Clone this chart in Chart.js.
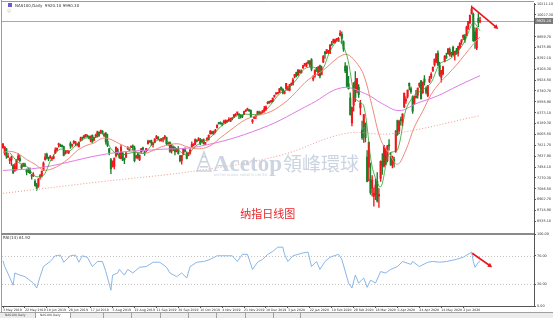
<!DOCTYPE html>
<html>
<head>
<meta charset="utf-8">
<script src="https://cdn.jsdelivr.net/npm/chart.js@4.4.0/dist/chart.umd.min.js"></script>
<style>
  html, body { margin: 0; padding: 0; background: #fff; }
  #wrap { width: 553px; height: 318px; }
</style>
</head>
<body>
<div id="wrap"><canvas id="chart" width="553" height="318"></canvas></div>
<script>
// date axis labels, one every 13 bars
const dateTicks = ["3 May 2019", "22 May 2019", "10 Jun 2019", "28 Jun 2019", "17 Jul 2019", "5 Aug 2019",
  "22 Aug 2019", "11 Sep 2019", "30 Sep 2019", "16 Oct 2019", "4 Nov 2019", "21 Nov 2019", "10 Dec 2019",
  "3 Jan 2020", "22 Jan 2020", "10 Feb 2020", "28 Feb 2020", "18 Mar 2020", "6 Apr 2020", "24 Apr 2020",
  "14 May 2020", "2 Jun 2020"];
const priceTicks = [10211.1, 10027.3, 9659.7, 9475.9, 9292.1, 9108.3, 8924.5, 8740.7, 8556.9, 8373.1,
  8189.3, 8005.5, 7821.7, 7637.9, 7454.1, 7270.3, 7086.5, 6902.7, 6718.9, 6535.1];
const rsiTicks = [0, 30, 70, 100];
const rsiLevels = [30, 70];
const lastPrice = 9925.1;

// daily candles, May 2019 .. Jun 2020 (one line per month)
const opens = [
  7780,7690,7760,7620,7560,7580,7480,7390,7420,7580,7600,7480,7480,7500,7410,7410,7390,7310,7310,7210,
  7150,7130,7290,7310,7400,7580,7670,7600,7610,7590,7600,7690,7740,7830,7820,7820,7800,7680,7710,7700,
  7850,7820,7860,7860,7830,7800,7910,7950,7950,7990,7980,7970,7910,7990,7910,7980,7970,8040,8030,8060,7980,8020,
  7890,7760,7580,7480,7460,7640,7750,7670,7600,7690,7600,7620,7760,7770,7790,7810,7780,7620,7680,7580,7710,7780,
  7700,7730,7850,7890,7900,7830,7870,7950,7960,7900,7900,7930,7950,7950,7840,7870,7720,7800,7780,7720,
  7770,7640,7560,7670,7740,7690,7650,7690,7800,7820,7840,7900,7920,7920,7880,7920,7840,7920,7920,8020,8050,8030,8060,
  8120,8200,8200,8190,8210,8200,8220,8240,8230,8270,8300,8330,8370,8350,8320,8320,8340,8400,8420,8420,
  8410,8220,8280,8310,8350,8380,8360,8380,8400,8430,8530,8560,8560,8560,8650,8690,8700,8710,8800,8770,8700,
  8780,8760,8750,8850,8850,8980,9050,9010,9080,9050,9130,9190,9160,9230,9180,9270,8940,8990,9120,9020,9170,
  9020,9230,9400,9390,9400,9380,9540,9560,9560,9610,9590,9680,9700,9570,9160,9150,8860,8620,8200,
  8500,8900,8750,8800,8460,8080,8140,8190,7620,7450,7250,7100,6960,6990,7210,6960,7260,7550,7470,7650,7560,7830,
  7640,7490,7580,7720,8240,8070,8260,8230,8470,8570,8650,8870,8780,8640,8530,8650,8670,8830,8910,8710,8940,
  8780,8660,8900,8970,9080,9180,9230,9380,9180,8970,9030,9240,9330,9370,9440,9350,9480,9350,9430,9380,
  9470,9570,9650,9670,9680,9810,9890,10050,10040,9740,9470,9970,9920
];
const highs = [
  7850,7800,7770,7690,7610,7640,7500,7510,7580,7680,7650,7500,7520,7520,7420,7440,7440,7330,7360,7240,
  7180,7260,7330,7390,7540,7680,7690,7620,7650,7620,7660,7780,7780,7860,7840,7830,7810,7730,7730,7730,
  7880,7840,7900,7890,7850,7880,7960,7960,7990,8000,8000,7980,7980,8000,7960,8010,8060,8050,8080,8070,8030,8040,
  8010,7770,7600,7560,7610,7790,7770,7690,7830,7700,7610,7710,7800,7780,7810,7830,7810,7650,7690,7660,7770,7790,
  7720,7770,7910,7900,7910,7870,7930,7990,7970,7920,7940,7950,7990,7960,7870,7880,7820,7800,7790,7770,
  7800,7650,7650,7760,7780,7710,7700,7760,7880,7850,7930,7920,7950,7940,7920,7930,7870,7950,8000,8070,8060,8060,8090,
  8170,8210,8220,8190,8250,8250,8250,8290,8280,8290,8340,8360,8380,8360,8340,8330,8400,8420,8450,8430,
  8420,8260,8310,8320,8400,8400,8390,8410,8480,8490,8560,8570,8580,8620,8670,8710,8710,8780,8810,8780,8740,
  8870,8820,8850,8880,8960,9020,9060,9100,9100,9100,9180,9200,9220,9260,9250,9290,9000,9100,9140,9150,9180,
  9160,9340,9410,9440,9430,9520,9580,9620,9620,9630,9650,9760,9740,9590,9220,9170,8990,8710,8470,
  8880,9070,8950,8850,8580,8230,8340,8200,7730,7880,7520,7310,7100,7250,7360,7090,7560,7680,7820,7770,7820,7920,
  7700,7640,7620,8070,8250,8240,8300,8360,8710,8640,8760,8880,8810,8660,8650,8750,8790,8880,8920,8890,9000,
  8810,8830,8990,9050,9150,9280,9370,9420,9230,9090,9160,9340,9380,9460,9470,9400,9500,9410,9460,9500,
  9560,9610,9690,9700,9840,9920,10030,10180,10060,9810,9810,10050,9990
];
const lows = [
  7770,7660,7600,7610,7510,7480,7340,7380,7400,7570,7540,7410,7460,7460,7320,7360,7340,7250,7290,7130,
  7060,7110,7250,7280,7390,7570,7590,7560,7600,7560,7590,7680,7720,7790,7800,7790,7640,7670,7690,7680,
  7770,7790,7850,7810,7810,7790,7890,7910,7940,7960,7960,7930,7880,7870,7900,7950,7960,7970,8020,8010,7970,7840,
  7800,7660,7340,7450,7420,7620,7660,7600,7590,7560,7510,7610,7750,7730,7780,7730,7540,7600,7590,7560,7700,7720,
  7650,7710,7840,7870,7820,7790,7860,7930,7920,7890,7890,7880,7930,7830,7820,7700,7690,7730,7660,7710,
  7670,7540,7500,7660,7710,7590,7640,7670,7790,7810,7830,7880,7900,7830,7870,7840,7830,7890,7910,8010,8010,8000,8030,
  8110,8180,8180,8150,8190,8190,8210,8230,8220,8250,8290,8320,8340,8270,8280,8290,8340,8390,8410,8400,
  8290,8190,8270,8270,8340,8350,8340,8370,8380,8410,8520,8530,8540,8560,8630,8680,8690,8710,8750,8690,8690,
  8760,8750,8740,8830,8840,8960,8980,9000,9040,9040,9120,9160,9150,9200,9150,9080,8910,8970,9070,9000,8960,
  9010,9220,9290,9370,9370,9370,9510,9550,9550,9580,9580,9670,9550,9410,9050,8810,8770,8330,8150,
  8400,8560,8710,8630,8340,7920,7870,7880,7200,7220,6990,6960,6790,6900,6860,6770,7210,7330,7450,7490,7540,7740,
  7480,7440,7450,7700,7990,8020,8160,8150,8460,8530,8620,8760,8700,8360,8510,8620,8620,8800,8600,8700,8840,
  8690,8640,8880,8950,9070,9160,9220,9170,8990,8890,9010,9230,9290,9360,9330,9320,9340,9260,9360,9330,
  9460,9530,9610,9560,9670,9780,9880,10040,9580,9460,9440,9830,9890
];
const closes = [
  7845,7790,7640,7630,7590,7620,7360,7470,7570,7640,7560,7440,7510,7470,7370,7380,7350,7300,7320,7140,
  7090,7250,7310,7380,7520,7620,7610,7590,7630,7590,7630,7740,7770,7840,7810,7800,7650,7690,7710,7720,
  7810,7830,7890,7870,7830,7870,7930,7940,7980,7990,7970,7940,7970,7880,7950,8000,8050,7990,8070,8040,8010,7880,
  7820,7700,7420,7550,7600,7790,7700,7620,7790,7570,7580,7690,7780,7740,7800,7790,7560,7640,7610,7650,7760,7750,
  7680,7770,7890,7880,7860,7860,7930,7960,7930,7900,7940,7940,7950,7850,7840,7720,7800,7760,7710,7750,
  7680,7560,7650,7760,7720,7600,7690,7740,7840,7820,7920,7890,7930,7850,7910,7850,7870,7940,7990,8060,8020,8050,8080,
  8160,8190,8190,8180,8220,8250,8240,8260,8270,8280,8340,8350,8370,8330,8300,8310,8390,8410,8440,8400,
  8310,8250,8300,8310,8390,8360,8370,8410,8440,8470,8550,8550,8560,8620,8660,8700,8700,8780,8770,8710,8730,
  8870,8790,8850,8850,8930,9020,9000,9100,9050,9070,9170,9200,9200,9210,9250,9110,8950,9090,9080,9150,8990,
  9130,9330,9370,9440,9400,9520,9520,9610,9600,9620,9630,9720,9630,9450,9080,8820,8780,8340,8460,
  8880,8630,8950,8680,8530,7950,8340,7950,7210,7870,7020,7230,7010,7150,6880,6990,7550,7470,7820,7500,7810,7810,
  7490,7620,7530,8060,8000,8230,8240,8350,8700,8600,8750,8830,8730,8400,8630,8630,8790,8870,8610,8890,8890,
  8720,8830,8940,9020,9140,9280,9370,9180,9020,9090,9150,9330,9300,9450,9360,9390,9350,9410,9370,9490,
  9550,9600,9680,9610,9820,9920,10020,10130,9590,9590,9790,9900,9925
];

// moving averages (bar index, value)
const fastMaBars = [4,9,14,19,24,29,34,39,44,49,54,59,64,69,74,79,84,89,94,99,104,109,114,119,124,129,134,139,
  144,149,154,159,164,169,174,179,184,189,194,199,204,209,214,219,224,229,234,239,244,249,254,259,264,269,274,279,283];
const fastMa = [7699,7532,7470,7298,7310,7608,7758,7714,7846,7942,7942,8030,7766,7652,7682,7706,7690,7852,7932,7860,
  7740,7658,7802,7886,7976,8134,8230,8322,8348,8340,8368,8514,8692,8774,8930,9118,9144,9088,9412,9596,9340,8618,
  8490,7456,7116,7682,7740,8424,8668,8758,8880,9198,9264,9376,9586,9896,9759];
const midMaBars = [0,4,9,14,19,24,29,34,39,44,49,54,59,64,69,74,79,84,89,94,99,104,109,114,119,124,129,134,139,
  144,149,154,159,164,169,174,179,184,189,194,199,204,209,214,219,224,229,234,239,244,249,254,259,264,269,274,279,283];
const midMa = [7700,7720,7680,7580,7500,7403,7422,7494,7598,7732,7815,7861,7940,7920,7848,7783,7702,7683,7733,7795,
  7834,7846,7798,7765,7772,7831,7950,8057,8166,8259,8310,8345,8393,8479,8587,8728,8879,8992,9070,9191,9310,9359,
  9242,9011,8476,7920,7686,7499,7741,8129,8398,8683,8876,9025,9180,9356,9531,9654];
const ma60Bars = [0,23,63,92,116,153,183,201,215,225,235,245,258,270,283];
const ma60 = [7395,7446,7682,7750,7800,8104,8526,8795,8694,8526,8408,8526,8660,8829,9000];
const ma200Bars = [0,57,116,164,203,231,283];
const ma200 = [7008,7202,7395,7648,8019,8019,8323];

// RSI(14)
const rsiBars = [0,1,3,6,7,10,13,18,20,22,24,28,31,34,36,40,43,45,47,50,53,56,59,61,64,65,68,69,72,74,77,81,85,
  89,93,97,99,103,106,109,111,115,119,123,127,133,136,139,142,145,148,151,154,157,160,163,166,167,169,172,175,178,
  181,183,186,188,191,194,199,201,205,207,209,211,214,216,218,221,224,227,230,234,237,242,243,247,252,255,259,263,
  269,273,278,279,280,282,283];
const rsiValues = [63,55,45,29,46,43,41,32,25,41,55,62,70,71,61,70,71,61,70,68,55,62,62,48,22,43,46,51,43,51,46,54,55,
  61,61,54,46,41,46,39,55,61,62,65,70,70,70,62,72,72,51,61,65,72,76,82,82,72,62,70,72,74,
  75,55,62,51,62,68,72,65,32,25,43,32,39,26,36,32,48,46,51,55,62,58,62,55,61,62,61,62,
  65,68,75,62,54,61,62];

const upColor = "#f2151b";
const downColor = "#19802a";
const bars = closes.map((c, i) => i);
const candleColors = bars.map(i => (closes[i] >= opens[i] ? upColor : downColor));

function toPoints(xs, ys) {
  return xs.map((x, k) => ({ x: x, y: ys[k] }));
}

function drawArrow(ctx, x1, y1, x2, y2, width, head) {
  const ang = Math.atan2(y2 - y1, x2 - x1);
  ctx.lineWidth = width;
  ctx.beginPath();
  ctx.moveTo(x1, y1);
  ctx.lineTo(x2 - head * 0.7 * Math.cos(ang), y2 - head * 0.7 * Math.sin(ang));
  ctx.stroke();
  ctx.beginPath();
  ctx.moveTo(x2, y2);
  ctx.lineTo(x2 - head * Math.cos(ang - 0.5), y2 - head * Math.sin(ang - 0.5));
  ctx.lineTo(x2 - head * Math.cos(ang + 0.5), y2 - head * Math.sin(ang + 0.5));
  ctx.closePath();
  ctx.fill();
}

const terminalLook = {
  id: "terminalLook",
  beforeDraw(chart) {
    const ctx = chart.ctx;
    ctx.save();
    ctx.fillStyle = "#ffffff";
    ctx.fillRect(0, 0, chart.width, chart.height);
    ctx.restore();
  },
  beforeDatasetsDraw(chart) {
    const { ctx, chartArea: a, scales } = chart;
    ctx.save();
    // RSI levels
    ctx.strokeStyle = "#c4c4c4";
    ctx.lineWidth = 1;
    ctx.setLineDash([1, 2]);
    rsiLevels.forEach(v => {
      const py = Math.round(scales.rsi.getPixelForValue(v)) + 0.5;
      ctx.beginPath(); ctx.moveTo(a.left, py); ctx.lineTo(a.right, py); ctx.stroke();
    });
    ctx.setLineDash([]);
    // last price line
    const ly = Math.round(scales.y.getPixelForValue(lastPrice)) + 0.5;
    ctx.strokeStyle = "#a8a8a8";
    ctx.beginPath(); ctx.moveTo(a.left, ly); ctx.lineTo(a.right, ly); ctx.stroke();
    ctx.restore();
  },
  afterDraw(chart) {
    const { ctx, chartArea: a, scales } = chart;
    const sx = scales.x, sy = scales.y, sr = scales.rsi;
    ctx.save();

    // frame lines
    ctx.strokeStyle = "#9c9c9c";
    ctx.lineWidth = 1;
    ctx.beginPath(); ctx.moveTo(1.5, 0); ctx.lineTo(1.5, 312); ctx.stroke();
    ctx.beginPath(); ctx.moveTo(1.5, 1.5); ctx.lineTo(a.right, 1.5); ctx.stroke();
    ctx.fillStyle = "#8a8a8a";
    ctx.fillRect(1, Math.round(sy.bottom) - 1, a.right - 1, 2);

    // last price label
    const ly = sy.getPixelForValue(lastPrice);
    ctx.fillStyle = "#7a7a7a";
    ctx.fillRect(a.right + 1, ly - 3, 18, 6);
    ctx.fillStyle = "#ffffff";
    ctx.font = "3.6px 'DejaVu Sans'";
    ctx.textBaseline = "middle";
    ctx.fillText(lastPrice.toFixed(2), a.right + 2.5, ly + 0.3);

    // headers
    ctx.fillStyle = "#6a5acd";
    ctx.fillRect(8, 3, 4, 4);
    ctx.fillStyle = "#333333";
    ctx.font = "4px 'DejaVu Sans'";
    ctx.textBaseline = "middle";
    ctx.fillText("NAS100,Daily  9920.10 9990.30", 15, 5.5);
    ctx.fillStyle = "#b8d86a";
    ctx.fillText("\u263A", 7, 11);
    ctx.fillStyle = "#333333";
    ctx.fillText("RSI(14) 61.92", 3, sy.bottom + 3.5);

    // watermark
    ctx.globalAlpha = 0.75;
    ctx.fillStyle = "#b9c6d6";
    ctx.strokeStyle = "#b9c6d6";
    const wx = 197, wy = 171;
    ctx.beginPath();
    ctx.moveTo(wx, wy); ctx.lineTo(wx + 7, wy - 19); ctx.lineTo(wx + 14, wy); ctx.closePath();
    ctx.lineWidth = 1.5; ctx.stroke();
    for (let k = 0; k < 3; k++) {
      ctx.fillRect(wx + 3 + k, wy - 5 - k * 5, 8 - 2 * k, 1.6);
    }
    ctx.textBaseline = "alphabetic";
    ctx.font = "bold 23px 'Liberation Serif'";
    ctx.fillText("Acetop", 213, wy);
    ctx.font = "19px 'Noto Sans CJK TC'";
    ctx.fillText("\u9818\u5CF0\u74B0\u7403", 283, wy);
    ctx.font = "3px 'DejaVu Sans'";
    ctx.fillText("ACETOP GLOBAL MARKETS LIMITED", 214, wy + 5);
    ctx.globalAlpha = 1;

    // caption
    ctx.fillStyle = "#e8262b";
    ctx.font = "11px 'Noto Sans CJK SC'";
    ctx.textAlign = "center";
    ctx.textBaseline = "middle";
    ctx.fillText("\u7EB3\u6307\u65E5\u7EBF\u56FE", sx.getPixelForValue(157), sy.getPixelForValue(6660));
    ctx.textAlign = "left";

    // arrows
    ctx.strokeStyle = "#e8161b";
    ctx.fillStyle = "#e8161b";
    drawArrow(ctx, sx.getPixelForValue(278.3), sy.getPixelForValue(10160),
      sx.getPixelForValue(293.8), sy.getPixelForValue(9790), 1.6, 5);
    drawArrow(ctx, sx.getPixelForValue(278.3), sr.getPixelForValue(73.5),
      sx.getPixelForValue(290.2), sr.getPixelForValue(54), 1.6, 5);

    // tab strip
    ctx.fillStyle = "#ececec";
    ctx.fillRect(0, 312, chart.width, 6);
    ctx.strokeStyle = "#a0a0a0";
    ctx.lineWidth = 1;
    ctx.beginPath(); ctx.moveTo(0, 312.5); ctx.lineTo(chart.width, 312.5); ctx.stroke();
    ctx.fillStyle = "#ffffff";
    ctx.fillRect(36, 313, 34, 5);
    const tabEdges = [35, 70, 103, 131, 160, 188, 216, 245, 273, 300];
    ctx.beginPath();
    tabEdges.forEach(t => { ctx.moveTo(t + 0.5, 313); ctx.lineTo(t + 0.5, 318); });
    ctx.stroke();
    ctx.fillStyle = "#444444";
    ctx.font = "3px 'DejaVu Sans'";
    ctx.textBaseline = "middle";
    ctx.fillText("NAS100,Daily", 5, 315.5);
    ctx.fillText("NAS100,Daily", 40, 315.5);
    ctx.restore();
  }
};

const lineStyle = { type: "line", pointRadius: 0, borderWidth: 1, yAxisID: "y", order: 1 };

new Chart(document.getElementById("chart"), {
  type: "bar",
  data: {
    datasets: [
      Object.assign({}, lineStyle, { label: "MA fast", data: toPoints(fastMaBars, fastMa), borderColor: "#2aa12a", borderWidth: 0.8, tension: 0.3 }),
      Object.assign({}, lineStyle, { label: "MA mid", data: toPoints(midMaBars, midMa), borderColor: "#f28a7c", tension: 0.35 }),
      Object.assign({}, lineStyle, { label: "MA 60", data: toPoints(ma60Bars, ma60), borderColor: "#e27ae6", tension: 0.4 }),
      Object.assign({}, lineStyle, { label: "MA 200", data: toPoints(ma200Bars, ma200), borderColor: "#ee9a8c", borderDash: [1, 2], tension: 0.4 }),
      {
        type: "bar", label: "body", yAxisID: "y", order: 5, grouped: false,
        data: bars.map(i => ({ x: i, y: [opens[i], closes[i]] })),
        backgroundColor: candleColors, barThickness: 1.4, minBarLength: 1
      },
      {
        type: "bar", label: "wick", yAxisID: "y", order: 6, grouped: false,
        data: bars.map(i => ({ x: i, y: [lows[i], highs[i]] })),
        backgroundColor: candleColors, barThickness: 0.7
      },
      {
        type: "line", label: "RSI", yAxisID: "rsi", order: 1,
        data: toPoints(rsiBars, rsiValues),
        borderColor: "#7daee4", borderWidth: 0.9, pointRadius: 0, tension: 0
      }
    ]
  },
  options: {
    responsive: false,
    animation: false,
    devicePixelRatio: 1,
    layout: { padding: { left: 2, top: 2, right: 0, bottom: 5 } },
    plugins: { legend: { display: false }, tooltip: { enabled: false } },
    scales: {
      x: {
        type: "linear", min: -0.6, max: 315, offset: false,
        grid: { display: true, drawOnChartArea: false, tickLength: 2, color: "#555", offset: false },
        border: { color: "#555" },
        afterBuildTicks: s => { s.ticks = dateTicks.map((d, k) => ({ value: k * 13 })); },
        afterFit: s => { s.height = 7; },
        ticks: {
          autoSkip: false, maxRotation: 0, align: "start", padding: 0.5,
          color: "#333", font: { family: "DejaVu Sans", size: 3.2 },
          callback: (v, k) => dateTicks[k]
        }
      },
      y: {
        type: "linear", position: "right", stack: "panels", stackWeight: 232,
        min: 6316.5, max: 10228,
        grid: { drawOnChartArea: false, tickLength: 2, color: "#555" },
        border: { color: "#555" },
        afterBuildTicks: s => { s.ticks = priceTicks.map(v => ({ value: v })); },
        afterFit: s => { s.width = 19; },
        ticks: {
          autoSkip: false, padding: 1, color: "#333", font: { family: "DejaVu Sans", size: 3.4 },
          callback: v => v.toFixed(2)
        }
      },
      rsi: {
        type: "linear", position: "right", stack: "panels", stackWeight: 72,
        min: 0, max: 100,
        grid: { drawOnChartArea: false, tickLength: 2, color: "#555" },
        border: { color: "#555" },
        afterBuildTicks: s => { s.ticks = rsiTicks.map(v => ({ value: v })); },
        afterFit: s => { s.width = 19; },
        ticks: {
          autoSkip: false, padding: 1, color: "#333", font: { family: "DejaVu Sans", size: 3.4 },
          callback: v => v.toFixed(2)
        }
      }
    }
  },
  plugins: [terminalLook]
});
</script>
</body>
</html>
